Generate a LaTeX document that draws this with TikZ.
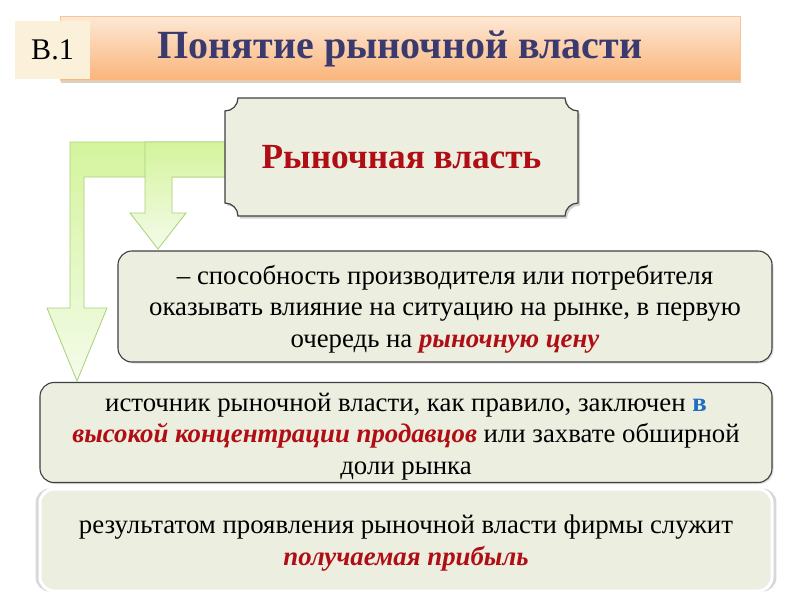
\documentclass[tikz,border=0pt]{standalone}
\usepackage{fontspec}
\setmainfont{Liberation Serif}
\usetikzlibrary{shadows,calc}
\definecolor{boxfill}{HTML}{ECEEE0}
\definecolor{boxline}{HTML}{3F3F3F}
\definecolor{navy}{HTML}{3A3A6E}
\definecolor{darkred}{HTML}{B00D14}
\definecolor{bluev}{HTML}{1F6FC0}
\definecolor{arrowtop}{HTML}{D4F49C}
\definecolor{arrowbot}{HTML}{F4FBEA}
\definecolor{arrowline}{HTML}{A6D277}
\definecolor{peachtop}{HTML}{FDE8D6}
\definecolor{peachbot}{HTML}{FAB57A}
\definecolor{cream}{HTML}{FBF1DA}
\newcommand{\redhl}[1]{\textcolor{darkred}{\textbf{\textit{#1}}}}
\tikzset{
  infobox/.style={draw=boxline, line width=1.1pt, fill=boxfill, rounded corners=14pt, inner sep=0pt,
    drop shadow={opacity=0.25, shadow xshift=1.5pt, shadow yshift=-1.5pt}},
  resultbox/.style={draw=white, line width=3pt, fill=boxfill, rounded corners=14pt, inner sep=0pt,
    drop shadow={opacity=0.3, shadow xshift=0pt, shadow yshift=0pt, shadow scale=1.012}},
  boxtext/.style={align=center, font=\fontsize{26.8}{31.5}\selectfont, inner sep=0pt},
  greenarrow/.style={top color=arrowtop, bottom color=arrowbot, draw=arrowline, line width=0.8pt},
}
\begin{document}
\begin{tikzpicture}[x=1pt,y=-1pt]
\useasboundingbox (0,0) rectangle (800,600);
\fill[white] (0,0) rectangle (800,600);

% title bar
\node[minimum width=680pt, minimum height=64pt, inner sep=0pt, top color=peachtop, bottom color=peachbot,
      draw=peachbot!80!white, line width=0.5pt,
      drop shadow={opacity=0.35, shadow xshift=1pt, shadow yshift=-3pt}] (bar) at (400,48) {};
\node[minimum width=75pt, minimum height=58pt, inner sep=0pt, fill=cream] (num) at (52.5,50) {};
\node[font=\fontsize{30}{34}\selectfont] (numtext) at (num.center) {В.1};
\node[font=\fontsize{40}{46}\selectfont\bfseries, text=navy] (title) at (400,49) {Понятие рыночной власти};

% green bent arrows
\draw[greenarrow] (226,142) -- (70,142) -- (70,308) -- (47,308) -- (77,381) coordinate (tipA)
   -- (107,308) -- (84,308) -- (84,177) -- (226,177) -- cycle;
\draw[greenarrow] (226,142) -- (145,142) -- (145,213) -- (130,213) -- (158,249) coordinate (tipB)
   -- (186,213) -- (172,213) -- (172,177) -- (226,177) -- cycle;

% plaque
\def\r{13}
\filldraw[fill=boxfill, draw=boxline, line width=1.2pt,
   drop shadow={opacity=0.35, shadow xshift=2pt, shadow yshift=-2.5pt}]
  (225+\r,98) -- (578-\r,98)
  .. controls (578-\r,98+0.55*\r) and (578-0.55*\r,98+\r) .. (578,98+\r)
  -- (578,216-\r)
  .. controls (578-0.55*\r,216-\r) and (578-\r,216-0.55*\r) .. (578-\r,216)
  -- (225+\r,216)
  .. controls (225+\r,216-0.55*\r) and (225+0.55*\r,216-\r) .. (225,216-\r)
  -- (225,98+\r)
  .. controls (225+0.55*\r,98+\r) and (225+\r,98+0.55*\r) .. (225+\r,98) -- cycle;
\node[font=\fontsize{35.3}{40}\selectfont\bfseries, text=darkred] (rv) at (401.5,157) {Рыночная власть};

% definition boxes
\node[infobox, minimum width=654pt, minimum height=111pt] (def) at (445,306.5) {};
\node[boxtext, yshift=-2.5pt] (deftext) at (def.center)
  {– способность производителя или потребителя\\
   оказывать влияние на ситуацию на рынке, в первую\\
   очередь на \redhl{рыночную цену}};
\node[infobox, minimum width=732pt, minimum height=100pt] (src) at (406,432.5) {};
\node[boxtext, yshift=-4pt] (srctext) at (src.center)
  {источник рыночной власти, как правило, заключен \textcolor{bluev}{\textbf{в}}\\
   \redhl{высокой концентрации продавцов} или захвате обширной\\
   доли рынка};
\node[resultbox, minimum width=732pt, minimum height=102pt] (res) at (406,540) {};
\node[boxtext, yshift=-3pt] (restext) at (res.center)
  {результатом проявления рыночной власти фирмы служит\\
   \redhl{получаемая прибыль}};
\end{tikzpicture}
\end{document}
